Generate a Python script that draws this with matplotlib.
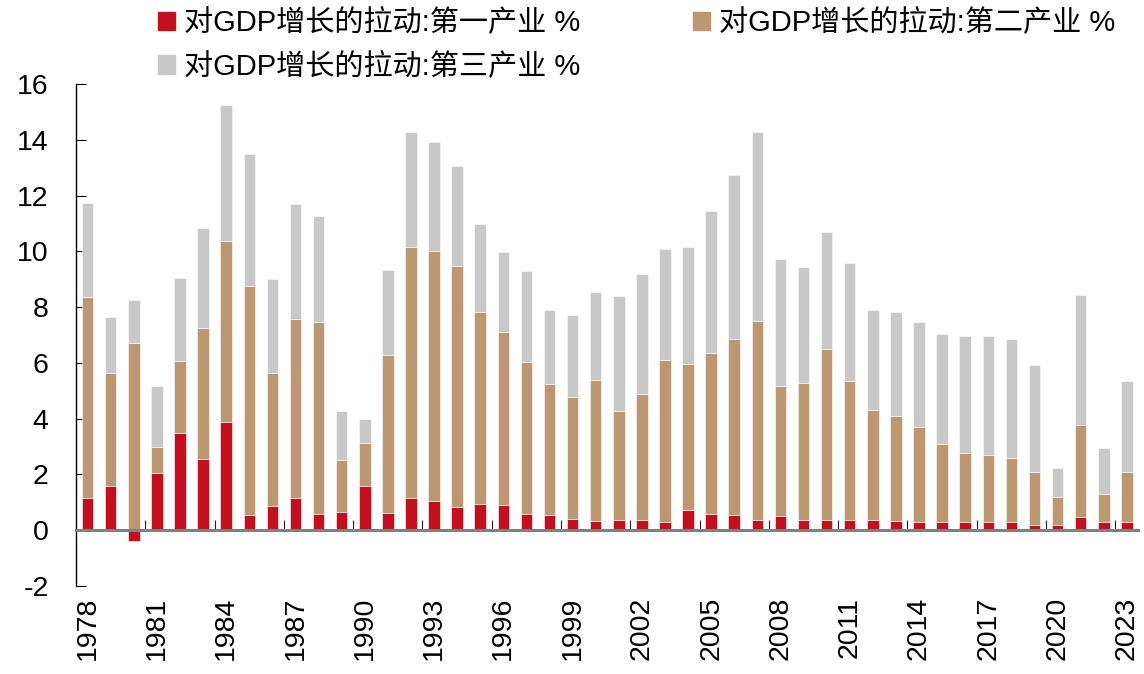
import matplotlib
matplotlib.use("Agg")
import matplotlib.pyplot as plt
import numpy as np
from matplotlib.patches import Patch

plt.rcParams['font.family'] = ['Liberation Sans', 'Noto Sans CJK SC']
plt.rcParams['axes.unicode_minus'] = False

# 对GDP增长的拉动 (百分点), 1978-2023
years = list(range(1978, 2024))
primary = [1.15, 1.58, -0.39, 2.06, 3.48, 2.55, 3.88, 0.53, 0.86, 1.16,
           0.59, 0.66, 1.58, 0.61, 1.15, 1.05, 0.83, 0.93, 0.91, 0.59,
           0.55, 0.41, 0.34, 0.37, 0.37, 0.29, 0.73, 0.59, 0.53, 0.36,
           0.49, 0.36, 0.36, 0.36, 0.37, 0.31, 0.29, 0.29, 0.29, 0.29,
           0.29, 0.18, 0.18, 0.48, 0.29, 0.29]
secondary = [7.20, 4.07, 6.70, 0.91, 2.59, 4.69, 6.49, 8.23, 4.77, 6.43,
             6.89, 1.85, 1.56, 5.67, 9.00, 8.95, 8.63, 6.90, 6.18, 5.44,
             4.70, 4.38, 5.06, 3.89, 4.51, 5.81, 5.23, 5.75, 6.33, 7.13,
             4.69, 4.91, 6.12, 4.98, 3.94, 3.78, 3.40, 2.79, 2.49, 2.40,
             2.30, 1.90, 1.00, 3.29, 1.00, 1.79]
tertiary = [3.37, 1.99, 1.56, 2.20, 2.99, 3.59, 4.89, 4.74, 3.37, 4.12,
            3.79, 1.75, 0.83, 3.04, 4.13, 3.94, 3.62, 3.17, 2.88, 3.25,
            2.65, 2.92, 3.15, 4.13, 4.31, 3.98, 4.19, 5.10, 5.90, 6.79,
            4.53, 4.16, 4.21, 4.25, 3.60, 3.73, 3.77, 3.97, 4.17, 4.26,
            4.26, 3.86, 1.06, 4.68, 1.65, 3.26]

labels = ['对GDP增长的拉动:第一产业 %',
          '对GDP增长的拉动:第二产业 %',
          '对GDP增长的拉动:第三产业 %']
colors = ['#C40F1E', '#BB9872', '#C8C8C8']

x = np.arange(len(years))
p = np.array(primary)
s = np.array(secondary)
t = np.array(tertiary)
# negative values stack below zero, positive ones on top of each other
base2 = np.clip(p, 0, None)
base3 = base2 + s

fig = plt.figure(figsize=(11.44, 6.74), dpi=100)
ax = fig.add_axes([0.0667, 0.131, 0.928, 0.744])

w = 0.5
ax.bar(x, p, w, color=colors[0], edgecolor='#ffffff', linewidth=0.4, zorder=2)
ax.bar(x, s, w, bottom=base2, color=colors[1], edgecolor='#ffffff', linewidth=0.4, zorder=2)
ax.bar(x, t, w, bottom=base3, color=colors[2], edgecolor='#ffffff', linewidth=0.4, zorder=2)

ax.set_xlim(-0.49, len(years) - 0.52)
ax.set_ylim(-2, 16)
ax.set_yticks(range(-2, 17, 2))
ax.tick_params(axis='y', direction='in', length=7, width=0.8, pad=20, labelsize=20.5)

ax.set_xticks(x[::3])
ax.set_xticklabels([str(y) for y in years[::3]], rotation=90, fontsize=20.5)
ax.tick_params(axis='x', length=0, pad=8)

for side in ['top', 'right', 'bottom']:
    ax.spines[side].set_visible(False)
ax.spines['left'].set_linewidth(1.0)

# zero line with small separators every 3 years
zx = ax.secondary_xaxis(0, transform=ax.transData)
zx.set_xticks(x[2:-1:3] + 0.5)
zx.tick_params(direction='in', length=7, width=0.8, labelbottom=False, color='#222222')
zx.spines['bottom'].set_color('#808080')
zx.spines['bottom'].set_linewidth(2.2)
zx.set_zorder(5)

handles = [Patch(color=c) for c in colors]
order = [0, 2, 1]
fig.legend([handles[i] for i in order], [labels[i] for i in order],
           ncol=2, loc='upper left', bbox_to_anchor=(0.133, 0.995),
           frameon=False, fontsize=21, handlelength=0.6, handleheight=0.6,
           handletextpad=0.3, columnspacing=3.85, labelspacing=0.53,
           borderpad=0.2, borderaxespad=0)

fig.savefig('out.png', dpi=100)
